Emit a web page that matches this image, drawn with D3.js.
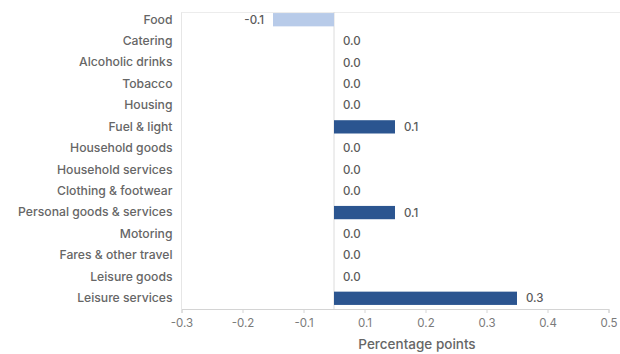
<!DOCTYPE html>
<html>
<head>
<meta charset="utf-8">
<script src="https://cdn.jsdelivr.net/npm/d3@7"></script>
<style>
  html, body { margin: 0; padding: 0; background: #fff; }
  svg { display: block; font-family: Inter, "Noto Sans", sans-serif; }
</style>
</head>
<body>
<svg id="chart" width="620" height="354"></svg>
<script>
const categories = ["Food", "Catering", "Alcoholic drinks", "Tobacco", "Housing", "Fuel & light",
  "Household goods", "Household services", "Clothing & footwear", "Personal goods & services",
  "Motoring", "Fares & other travel", "Leisure goods", "Leisure services"];
const values = [-0.1, 0.0, 0.0, 0.0, 0.0, 0.1, 0.0, 0.0, 0.0, 0.1, 0.0, 0.0, 0.0, 0.3];
const tickValues = [-0.25, -0.15, -0.05, 0.05, 0.15, 0.25, 0.35, 0.45];
const tickLabels = ["-0.3", "-0.2", "-0.1", "0.1", "0.2", "0.3", "0.4", "0.5"];
const axisTitle = "Percentage points";

const svg = d3.select("#chart");
const mLeft = 181.5, mRight = 608.5, mTop = 9, mBottom = 309;

const x = d3.scaleLinear().domain([-0.25, 0.45]).range([mLeft, mRight]);
const y = d3.scaleBand().domain(categories).range([mTop, mBottom]).paddingInner(0.38).paddingOuter(0.19);

// frame lines
svg.append("line").attr("x1", mLeft).attr("x2", mLeft).attr("y1", 12).attr("y2", mBottom)
  .attr("stroke", "#e6e6e6").attr("stroke-width", 1);
svg.append("line").attr("x1", mLeft).attr("x2", 620).attr("y1", 12.5).attr("y2", 12.5)
  .attr("stroke", "#ececec").attr("stroke-width", 1);
// zero line
svg.append("line").attr("x1", x(0)).attr("x2", x(0)).attr("y1", 12).attr("y2", mBottom)
  .attr("stroke", "#dcdcdc").attr("stroke-width", 1);

// x axis
const xAxis = d3.axisBottom(x).tickValues(tickValues)
  .tickFormat((d, i) => tickLabels[i]).tickSize(4).tickPadding(6);
const gx = svg.append("g").attr("transform", `translate(0,${mBottom})`).call(xAxis);
gx.select(".domain").attr("stroke", "#d4d4d4");
gx.selectAll(".tick line").attr("stroke", "#d4d4d4");
gx.selectAll(".tick text").attr("fill", "#7a7a7a").attr("font-size", 11.5)
  .attr("font-family", "Inter, 'Noto Sans', sans-serif");

svg.append("text").attr("x", 417).attr("y", 349).attr("text-anchor", "middle")
  .attr("font-size", 13.5).attr("font-weight", 500).attr("fill", "#666").text(axisTitle);

// y labels
const yAxis = d3.axisLeft(y).tickSize(0).tickPadding(9);
const gy = svg.append("g").attr("transform", `translate(${mLeft},0)`).call(yAxis);
gy.select(".domain").remove();
gy.selectAll(".tick text").attr("fill", "#666").attr("font-size", 12.2).attr("font-weight", 500)
  .attr("font-family", "Inter, 'Noto Sans', sans-serif");

// bars
svg.append("g").selectAll("rect").data(values).join("rect")
  .attr("x", d => x(Math.min(0, d)))
  .attr("y", (d, i) => y(categories[i]))
  .attr("width", d => Math.abs(x(d) - x(0)))
  .attr("height", y.bandwidth())
  .attr("fill", d => d < 0 ? "#b8cbe9" : "#2b5590");

// value labels
svg.append("g").selectAll("text").data(values).join("text")
  .attr("x", d => d < 0 ? x(d) - 9 : x(d) + 9)
  .attr("y", (d, i) => y(categories[i]) + y.bandwidth() / 2)
  .attr("dy", "0.35em")
  .attr("text-anchor", d => d < 0 ? "end" : "start")
  .attr("font-size", 11.5).attr("font-weight", 500).attr("fill", "#5a5a5a")
  .text(d => d3.format(".1f")(d).replace("−", "-"));
</script>
</body>
</html>
